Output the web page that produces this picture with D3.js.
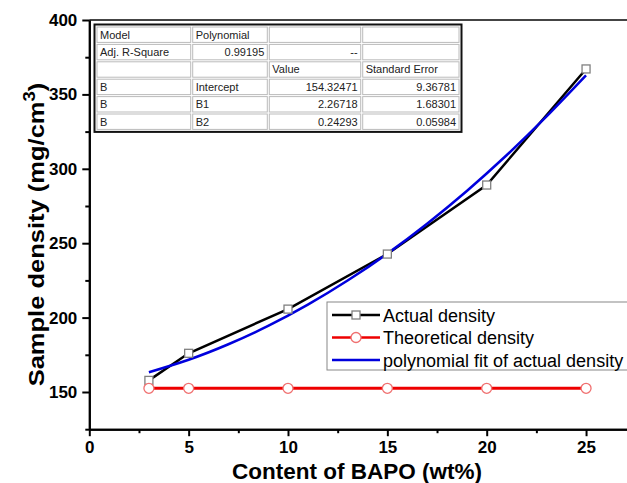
<!DOCTYPE html>
<html>
<head>
<meta charset="utf-8">
<script src="https://cdn.jsdelivr.net/npm/d3@7.9.0/dist/d3.min.js"></script>
<style>
  html, body { margin: 0; padding: 0; background: #fff; }
  svg { display: block; font-family: Arial, "Liberation Sans", sans-serif; }
</style>
</head>
<body>
<div id="chart"></div>
<script>
// BAPO content (wt%) and measured densities
const bapo = [3, 5, 10, 15, 20, 25];
const actualDensity = [157.8, 176, 205.7, 242.7, 289.1, 367.1];
const theoreticalDensity = [152.5, 152.5, 152.5, 152.5, 152.5, 152.5];

// polynomial fit curve
const fitX = [3, 5, 7, 9, 11, 13, 15, 17, 19, 21, 23, 25];
const fitY = [163.3, 171.7, 182.1, 194.4, 208.7, 224.9, 243.0, 263.1, 285.1, 309.1, 335.0, 362.8];

const xMajor = [0, 5, 10, 15, 20, 25];
const xMinor = [2.5, 7.5, 12.5, 17.5, 22.5, 27.5];
const yMajor = [150, 200, 250, 300, 350, 400];
const yMinor = [125, 175, 225, 275, 325, 375];

// fit report table
const tableRows = [
  ['Model', 'Polynomial', '', ''],
  ['Adj. R-Square', '0.99195', '--', ''],
  ['', '', 'Value', 'Standard Error'],
  ['B', 'Intercept', '154.32471', '9.36781'],
  ['B', 'B1', '2.26718', '1.68301'],
  ['B', 'B2', '0.24293', '0.05984']
];
// alignment per cell: l = left, r = right
const tableAlign = [
  ['l', 'l', 'l', 'l'],
  ['l', 'r', 'r', 'l'],
  ['l', 'l', 'l', 'l'],
  ['l', 'l', 'r', 'r'],
  ['l', 'l', 'r', 'r'],
  ['l', 'l', 'r', 'r']
];

const legendItems = [
  { label: 'Actual density', color: '#000', marker: 'square' },
  { label: 'Theoretical density', color: '#ee0000', marker: 'circle' },
  { label: 'polynomial fit of actual density', color: '#0000dd', marker: null }
];

const width = 627, height = 483;
const plotLeft = 89.3, plotBottom = 429.2, plotTop = 20;

const svg = d3.select('#chart').append('svg')
  .attr('width', width)
  .attr('height', height);

const x = d3.scaleLinear().domain([0, 28]).range([plotLeft, plotLeft + 28 * 19.87]);
const y = d3.scaleLinear().domain([125, 400]).range([plotBottom, plotTop]);

// top frame line
svg.append('line')
  .attr('x1', plotLeft).attr('x2', x(28))
  .attr('y1', plotTop).attr('y2', plotTop)
  .attr('stroke', '#444').attr('stroke-width', 2);

// axes
function styleAxis(g) {
  g.select('.domain').attr('stroke', '#000').attr('stroke-width', 2);
  g.selectAll('.tick line').attr('stroke', '#000').attr('stroke-width', 2);
  g.selectAll('.tick text')
    .attr('font-size', 17).attr('font-weight', 'bold').attr('fill', '#000')
    .attr('font-family', 'Arial, "Liberation Sans", sans-serif');
}

svg.append('g')
  .attr('transform', `translate(0,${plotBottom})`)
  .call(d3.axisBottom(x).tickValues(xMinor).tickSize(4).tickSizeOuter(0).tickFormat(''))
  .call(styleAxis);

svg.append('g')
  .attr('transform', `translate(0,${plotBottom})`)
  .call(d3.axisBottom(x).tickValues(xMajor).tickSize(7).tickSizeOuter(0).tickPadding(5))
  .call(styleAxis);

svg.append('g')
  .attr('transform', `translate(${plotLeft},0)`)
  .call(d3.axisLeft(y).tickValues(yMinor).tickSize(4).tickSizeOuter(0).tickFormat(''))
  .call(styleAxis);

svg.append('g')
  .attr('transform', `translate(${plotLeft},0)`)
  .call(d3.axisLeft(y).tickValues(yMajor).tickSize(7).tickSizeOuter(0).tickPadding(5))
  .call(styleAxis);

// axis titles
svg.append('text')
  .attr('x', 357).attr('y', 479)
  .attr('text-anchor', 'middle')
  .attr('font-size', 22.5).attr('font-weight', 'bold')
  .text('Content of BAPO (wt%)');

const yTitle = svg.append('text')
  .attr('transform', 'translate(44,234.5) rotate(-90) scale(1.16,1)')
  .attr('text-anchor', 'middle')
  .attr('font-size', 22).attr('font-weight', 'bold');
yTitle.append('tspan').text('Sample density (mg/cm');
yTitle.append('tspan').attr('dy', -9).attr('font-size', 16).text('3');
yTitle.append('tspan').attr('dy', 9).text(')');

// series
const actual = bapo.map((d, i) => [d, actualDensity[i]]);
const theo = bapo.map((d, i) => [d, theoreticalDensity[i]]);
const fit = fitX.map((d, i) => [d, fitY[i]]);

const line = d3.line().x(d => x(d[0])).y(d => y(d[1]));

svg.append('path').datum(actual)
  .attr('d', line).attr('fill', 'none')
  .attr('stroke', '#000').attr('stroke-width', 2.5);

svg.append('path').datum(theo)
  .attr('d', line).attr('fill', 'none')
  .attr('stroke', '#ee0000').attr('stroke-width', 3);

svg.append('path').datum(fit)
  .attr('d', line.curve(d3.curveNatural)).attr('fill', 'none')
  .attr('stroke', '#0000dd').attr('stroke-width', 2.5);

svg.append('g').selectAll('rect')
  .data(actual).join('rect')
  .attr('x', d => x(d[0]) - 4).attr('y', d => y(d[1]) - 4)
  .attr('width', 8).attr('height', 8)
  .attr('fill', '#fff').attr('stroke', '#808080').attr('stroke-width', 1.3);

svg.append('g').selectAll('circle')
  .data(theo).join('circle')
  .attr('cx', d => x(d[0])).attr('cy', d => y(d[1]))
  .attr('r', 5)
  .attr('fill', '#fff').attr('stroke', '#f07070').attr('stroke-width', 1.3);

// fit report table
const colX = [96, 191.7, 268.3, 361.7, 460];
const rowH = 17.4, tableTop = 26;
const table = svg.append('g').attr('font-size', 11).attr('fill', '#222');

table.append('rect')
  .attr('x', colX[0]).attr('y', tableTop)
  .attr('width', colX[4] - colX[0]).attr('height', rowH * tableRows.length)
  .attr('fill', '#fff');

tableRows.forEach((row, r) => {
  row.forEach((cell, c) => {
    table.append('rect')
      .attr('x', colX[c] + 1).attr('y', tableTop + r * rowH + 1)
      .attr('width', colX[c + 1] - colX[c] - 2).attr('height', rowH - 2)
      .attr('fill', 'none').attr('stroke', '#bbb').attr('stroke-width', 1);
    if (!cell) return;
    const right = tableAlign[r][c] === 'r';
    table.append('text')
      .attr('x', right ? colX[c + 1] - 4 : colX[c] + 4)
      .attr('y', tableTop + r * rowH + 12.5)
      .attr('text-anchor', right ? 'end' : 'start')
      .text(cell);
  });
});

table.append('rect')
  .attr('x', colX[0] - 1.5).attr('y', tableTop - 1.5)
  .attr('width', colX[4] - colX[0] + 3).attr('height', rowH * tableRows.length + 3)
  .attr('fill', 'none').attr('stroke', '#111').attr('stroke-width', 2);

// legend
const legend = svg.append('g').attr('transform', 'translate(327,302)');
legend.append('rect')
  .attr('x', 0).attr('y', 0).attr('width', 320).attr('height', 68)
  .attr('fill', '#fff').attr('stroke', '#888').attr('stroke-width', 1);

legendItems.forEach((item, i) => {
  const cy = 13 + i * 22.5;
  legend.append('line')
    .attr('x1', 5).attr('x2', 53).attr('y1', cy).attr('y2', cy)
    .attr('stroke', item.color).attr('stroke-width', 2.5);
  if (item.marker === 'square') {
    legend.append('rect')
      .attr('x', 29 - 4).attr('y', cy - 4).attr('width', 8).attr('height', 8)
      .attr('fill', '#fff').attr('stroke', '#808080').attr('stroke-width', 1.3);
  } else if (item.marker === 'circle') {
    legend.append('circle')
      .attr('cx', 29).attr('cy', cy).attr('r', 5)
      .attr('fill', '#fff').attr('stroke', '#f07070').attr('stroke-width', 1.3);
  }
  legend.append('text')
    .attr('x', 56).attr('y', cy + 6.5)
    .attr('font-size', 18).attr('fill', '#000')
    .text(item.label);
});
</script>
</body>
</html>
